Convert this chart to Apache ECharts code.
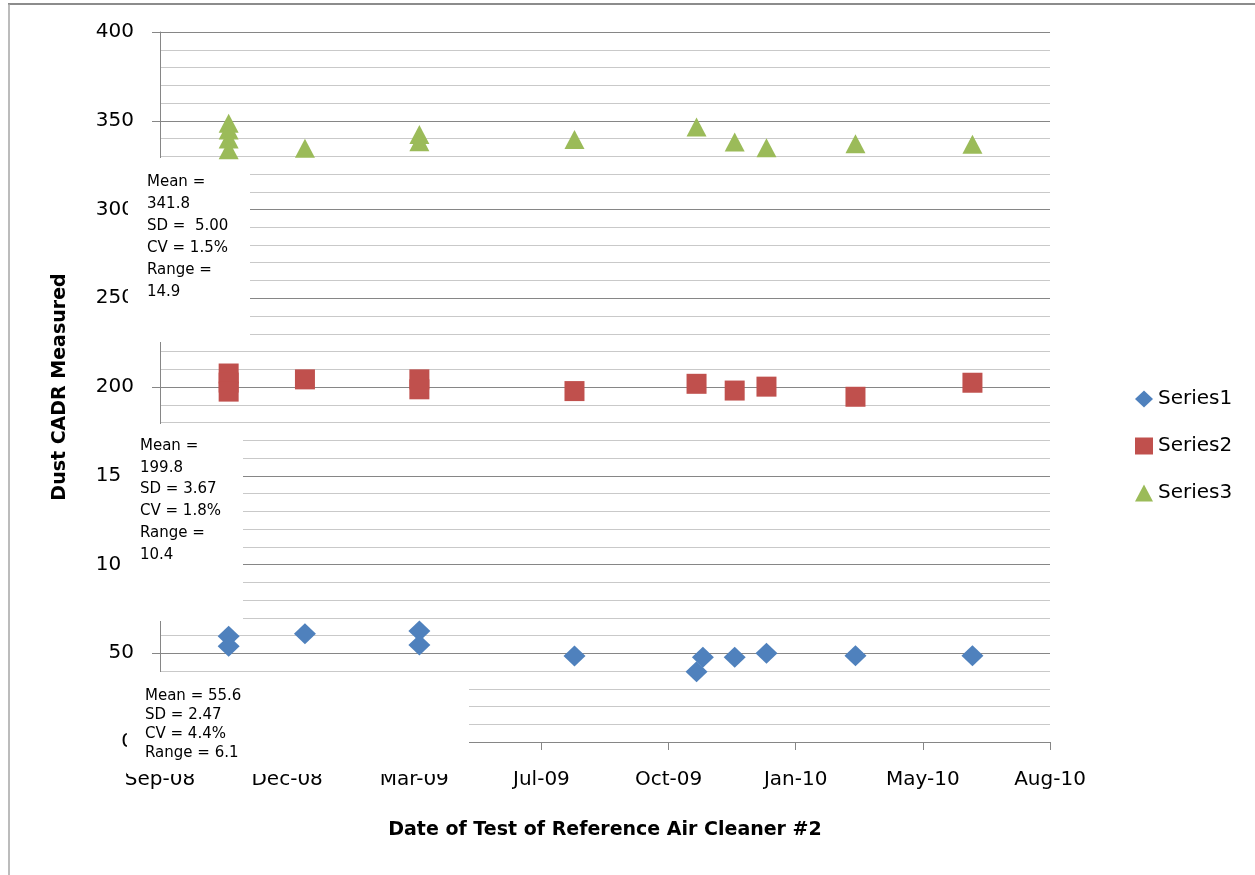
<!DOCTYPE html>
<html>
<head>
<meta charset="utf-8">
<script src="https://cdn.jsdelivr.net/npm/echarts@6/dist/echarts.min.js"></script>
<style>
html,body{margin:0;padding:0;background:#fff;}
#chart{width:1255px;height:875px;}
</style>
</head>
<body>
<div id="chart"></div>
<script>
// ---- data ----
const axisStartDate = '2008-09-10';          // day 0 of the date axis (ticks every 100 days)
const xTickLabels = ['Sep-08','Dec-08','Mar-09','Jul-09','Oct-09','Jan-10','May-10','Aug-10'];
const seriesNames = ['Series1','Series2','Series3'];

const s1Dates  = ['2008-11-03','2008-11-03','2009-01-02','2009-04-02','2009-04-02','2009-08-02','2009-11-06','2009-11-11','2009-12-06','2009-12-31','2010-03-11','2010-06-11'];
const s1Values = [59.6, 54.0, 61.0, 62.5, 54.6, 48.5, 39.6, 47.7, 47.7, 50.0, 48.6, 48.6];

const s2Dates  = ['2008-11-03','2008-11-03','2008-11-03','2009-01-02','2009-04-02','2009-04-02','2009-08-02','2009-11-06','2009-12-06','2009-12-31','2010-03-11','2010-06-11'];
const s2Values = [207.6, 202.5, 197.4, 204.3, 204.3, 198.7, 197.7, 201.8, 198.0, 200.2, 194.5, 202.4];

const s3Dates  = ['2008-11-03','2008-11-03','2008-11-03','2008-11-03','2009-01-02','2009-04-02','2009-04-02','2009-08-02','2009-11-06','2009-12-06','2009-12-31','2010-03-11','2010-06-11'];
const s3Values = [348.6, 344.8, 339.7, 333.6, 334.5, 342.3, 338.2, 339.5, 346.5, 338.0, 334.8, 337.0, 336.7];

const s1Stats = ['Mean = 55.6','SD = 2.47','CV = 4.4%','Range = 6.1'];
const s2Stats = ['Mean =','199.8','SD = 3.67','CV = 1.8%','Range =','10.4'];
const s3Stats = ['Mean =','341.8','SD =  5.00','CV = 1.5%','Range =','14.9'];

const xTitle = 'Date of Test of Reference Air Cleaner #2';
const yTitle = 'Dust CADR Measured';

// ---- helpers ----
function dayOffset(d){ return (Date.parse(d) - Date.parse(axisStartDate)) / 86400000; }
function pairs(dates, vals){ return dates.map((d,i)=>[dayOffset(d), vals[i]]); }

const FONT = 'DejaVu Sans';
const AXIS_COLOR = '#868686';

const chart = echarts.init(document.getElementById('chart'));
chart.setOption({
  animation:false,
  backgroundColor:'#ffffff',
  grid:{left:160, right:205, top:32, bottom:133, containLabel:false},
  legend:{
    data:seriesNames, orient:'vertical', left:1130, top:383,
    itemWidth:18, itemHeight:17, itemGap:25,
    textStyle:{fontFamily:FONT, fontSize:20, color:'#000', lineHeight:22}
  },
  xAxis:{
    type:'value', min:0, max:700, interval:100,
    name:xTitle, nameLocation:'middle', nameGap:79, nameMoveOverlap:false,
    nameTextStyle:{fontFamily:FONT, fontWeight:'bold', fontSize:19, color:'#000'},
    axisLine:{show:true, lineStyle:{color:AXIS_COLOR, width:1}},
    axisTick:{show:true, length:8, lineStyle:{color:AXIS_COLOR}},
    axisLabel:{margin:28, fontFamily:FONT, fontSize:20, color:'#000',
      formatter:(v)=>xTickLabels[Math.round(v/100)] || ''},
    splitLine:{show:false}
  },
  yAxis:{
    type:'value', min:0, max:400, interval:50,
    name:yTitle, nameLocation:'middle', nameGap:90, nameMoveOverlap:false,
    nameTextStyle:{fontFamily:FONT, fontWeight:'bold', fontSize:19, color:'#000'},
    axisLine:{show:true, lineStyle:{color:AXIS_COLOR, width:1}},
    axisTick:{show:true, length:8, lineStyle:{color:AXIS_COLOR}},
    axisLabel:{margin:26, fontFamily:FONT, fontSize:20, color:'#000'},
    splitLine:{show:true, lineStyle:{color:AXIS_COLOR, width:1}},
    minorTick:{show:false, splitNumber:5},
    minorSplitLine:{show:true, lineStyle:{color:'#c9c9c9', width:1}}
  },
  series:[
    {name:seriesNames[0], type:'scatter', symbol:'diamond', symbolSize:[22,21],
     itemStyle:{color:'#4F81BD', opacity:1}, data:pairs(s1Dates, s1Values), z:3},
    {name:seriesNames[1], type:'scatter', symbol:'rect', symbolSize:[20,20],
     itemStyle:{color:'#C0504D', opacity:1}, data:pairs(s2Dates, s2Values), z:3},
    {name:seriesNames[2], type:'scatter', symbol:'triangle', symbolSize:[20,19],
     itemStyle:{color:'#9BBB59', opacity:1}, data:pairs(s3Dates, s3Values), z:3}
  ],
  graphic:[
    // chart frame
    {type:'line', shape:{x1:8, y1:4, x2:1255, y2:4}, style:{stroke:'#8c8c8c', lineWidth:2}, z:1},
    {type:'line', shape:{x1:9, y1:4, x2:9, y2:875}, style:{stroke:'#a6a6a6', lineWidth:1.5}, z:1},
    // white annotation boxes
    {type:'rect', shape:{x:128, y:158, width:122, height:184}, style:{fill:'#ffffff'}, z:1},
    {type:'rect', shape:{x:122, y:424, width:121, height:197}, style:{fill:'#ffffff'}, z:1},
    {type:'rect', shape:{x:127, y:672, width:342, height:102}, style:{fill:'#ffffff'}, z:1},
    {type:'text', x:147, y:171, z:2,
     style:{text:s3Stats.join('\n'), fontFamily:FONT, fontSize:15, lineHeight:22, fill:'#000', verticalAlign:'top'}},
    {type:'text', x:140, y:435, z:2,
     style:{text:s2Stats.join('\n'), fontFamily:FONT, fontSize:15, lineHeight:21.8, fill:'#000', verticalAlign:'top'}},
    {type:'text', x:145, y:687, z:2,
     style:{text:s1Stats.join('\n'), fontFamily:FONT, fontSize:15, lineHeight:19, fill:'#000', verticalAlign:'top'}}
  ]
});
</script>
</body>
</html>
